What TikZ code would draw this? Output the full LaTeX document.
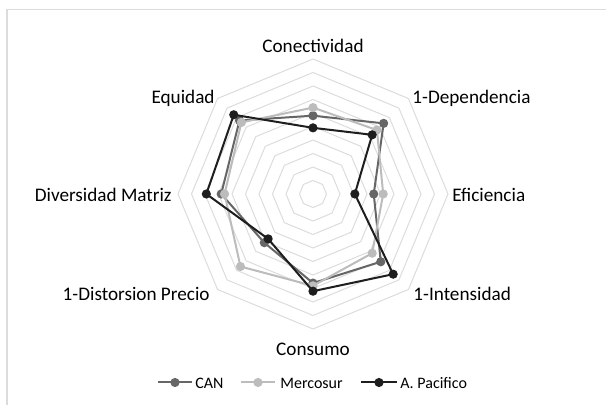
\documentclass[tikz,border=0pt]{standalone}
\usepackage{fontspec}
\setmainfont{Carlito}
\definecolor{cancol}{HTML}{666666}
\definecolor{mercol}{HTML}{BCBCBC}
\definecolor{apcol}{HTML}{1E1E1E}
\definecolor{gridcol}{HTML}{DCDCDC}
\tikzset{ ring/.style = { draw = gridcol
                        , line width = 0.5pt
                        },
          serie/.style = { line width = 1pt
                         , line join = round
                         },
          dot/.style = { circle
                       , inner sep    = 0pt
                       , minimum size = 4.6pt
                       },
          lbl/.style = { inner sep   = 0pt
                       , text height = 0.64em
                       , text depth  = 0pt
                       , font = \fontsize{9.6}{11}\selectfont
                       },
          leg/.style = { inner sep   = 0pt
                       , text height = 0.64em
                       , text depth  = 0pt
                       , font = \fontsize{8}{10}\selectfont
                       }
        }
\def\rstep{13.5}

\begin{document}
\begin{tikzpicture}[x=0.5pt, y=0.5pt]
  \useasboundingbox (-313,-211) rectangle (293,194);
  % chart frame (cut at right and bottom)
  \draw[draw=gridcol, line width=0.75pt] (293,184.5) -- (-306,184.5) -- (-306,-211);

  % grid
  \foreach \k in {1,...,10}
    \draw[ring] (90:{\k*\rstep}) \foreach \a in {45,0,-45,-90,-135,-180,-225}{ -- (\a:{\k*\rstep}) } -- cycle;

  % axis labels
  \node[lbl] (conec) at (0,148) {Conectividad};
  \node[lbl, anchor=west] (depen) at (99,97) {1-Dependencia};
  \node[lbl, anchor=west] (efic) at (139,-1) {Eficiencia};
  \node[lbl, anchor=west] (inten) at (100,-100) {1-Intensidad};
  \node[lbl] (consu) at (0,-155) {Consumo};
  \node[lbl, anchor=east] (disto) at (-103,-100) {1-Distorsion Precio};
  \node[lbl, anchor=east] (diver) at (-141,-1) {Diversidad Matriz};
  \node[lbl, anchor=east] (equid) at (-98,97) {Equidad};

  % CAN
  \foreach \v [count=\i] in {5.8,7.4,4.5,7.1,6.6,5.1,6.8,7.7}
    \coordinate (c\i) at ({135-45*\i}:{\v*\rstep});
  \draw[serie, cancol] (c1) -- (c2) -- (c3) -- (c4) -- (c5) -- (c6) -- (c7) -- (c8) -- cycle;
  \foreach \i in {1,...,8}
    \node[dot, fill=cancol] (cd\i) at (c\i) {};

  % Mercosur
  \foreach \v [count=\i] in {6.4,6.7,5.2,6.2,6.8,7.6,6.55,7.5}
    \coordinate (m\i) at ({135-45*\i}:{\v*\rstep});
  \draw[serie, mercol] (m1) -- (m2) -- (m3) -- (m4) -- (m5) -- (m6) -- (m7) -- (m8) -- cycle;
  \foreach \i in {1,...,8}
    \node[dot, fill=mercol] (md\i) at (m\i) {};

  % A. Pacifico
  \foreach \v [count=\i] in {4.9,6.2,3.1,8.4,7.2,4.7,7.9,8.3}
    \coordinate (a\i) at ({135-45*\i}:{\v*\rstep});
  \draw[serie, apcol] (a1) -- (a2) -- (a3) -- (a4) -- (a5) -- (a6) -- (a7) -- (a8) -- cycle;
  \foreach \i in {1,...,8}
    \node[dot, fill=apcol] (ad\i) at (a\i) {};

  % legend
  \coordinate (lc1) at (-155,-188.5);
  \coordinate (lc2) at (-121,-188.5);
  \draw[serie, cancol] (lc1) -- (lc2);
  \node[dot, fill=cancol] (lcd) at (-138,-188.5) {};
  \node[leg, anchor=west] (lcan) at (-118,-188.5) {CAN};
  \coordinate (lm1) at (-72,-188.5);
  \coordinate (lm2) at (-38,-188.5);
  \draw[serie, mercol] (lm1) -- (lm2);
  \node[dot, fill=mercol] (lmd) at (-55,-188.5) {};
  \node[leg, anchor=west] (lmer) at (-33,-188.5) {Mercosur};
  \coordinate (la1) at (48,-188.5);
  \coordinate (la2) at (84,-188.5);
  \draw[serie, apcol] (la1) -- (la2);
  \node[dot, fill=apcol] (lad) at (66,-188.5) {};
  \node[leg, anchor=west] (lap) at (87,-188.5) {A. Pacifico};
\end{tikzpicture}
\end{document}
